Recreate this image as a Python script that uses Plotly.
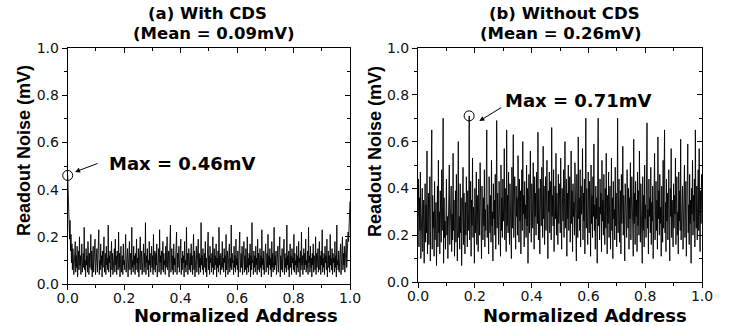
import plotly.graph_objects as go

# ---------------- data ----------------
noise_with_cds = [
    0.46,0.38,0.30,0.24,0.19,0.27,0.14,0.21,0.09,0.17,0.06,0.15,0.11,0.04,0.13,0.08,0.18,0.05,0.12,0.07,
    0.16,0.03,0.10,0.14,0.06,0.20,0.08,0.12,0.04,0.11,0.17,0.05,0.09,0.13,0.07,0.24,0.06,0.10,0.03,0.15,
    0.08,0.12,0.05,0.18,0.09,0.04,0.13,0.07,0.11,0.21,0.06,0.14,0.03,0.10,0.16,0.05,0.12,0.08,0.19,0.04,
    0.11,0.07,0.15,0.05,0.13,0.09,0.23,0.04,0.10,0.06,0.17,0.08,0.12,0.03,0.14,0.07,0.11,0.20,0.05,0.09,
    0.13,0.04,0.16,0.08,0.11,0.06,0.25,0.05,0.12,0.09,0.14,0.03,0.10,0.18,0.06,0.13,0.04,0.11,0.07,0.15,
    0.05,0.19,0.08,0.12,0.04,0.14,0.10,0.06,0.22,0.07,0.13,0.03,0.11,0.16,0.05,0.09,0.12,0.04,0.17,0.08,
    0.10,0.06,0.14,0.21,0.05,0.12,0.08,0.15,0.03,0.11,0.07,0.18,0.06,0.13,0.09,0.04,0.24,0.07,0.10,0.05,
    0.16,0.08,0.12,0.04,0.13,0.06,0.19,0.09,0.11,0.05,0.15,0.03,0.12,0.07,0.20,0.06,0.10,0.14,0.04,0.11,
    0.08,0.17,0.05,0.13,0.07,0.26,0.04,0.12,0.09,0.15,0.06,0.10,0.03,0.18,0.08,0.13,0.05,0.11,0.16,0.07,
    0.12,0.04,0.21,0.06,0.10,0.14,0.05,0.13,0.08,0.17,0.03,0.11,0.07,0.15,0.05,0.23,0.09,0.12,0.04,0.14,
    0.06,0.11,0.18,0.05,0.13,0.08,0.10,0.04,0.16,0.07,0.12,0.20,0.06,0.09,0.14,0.03,0.12,0.07,0.25,0.05,
    0.10,0.15,0.06,0.12,0.04,0.17,0.08,0.11,0.05,0.14,0.09,0.22,0.04,0.13,0.07,0.10,0.16,0.05,0.12,0.08,
    0.19,0.04,0.11,0.06,0.14,0.09,0.12,0.03,0.18,0.07,0.10,0.05,0.24,0.08,0.13,0.04,0.11,0.15,0.06,0.09,
    0.13,0.05,0.17,0.08,0.12,0.04,0.10,0.21,0.06,0.14,0.03,0.11,0.07,0.16,0.05,0.12,0.09,0.19,0.04,0.13,
    0.07,0.11,0.05,0.26,0.08,0.12,0.06,0.15,0.04,0.10,0.13,0.07,0.18,0.05,0.11,0.03,0.14,0.08,0.22,0.06,
    0.12,0.04,0.16,0.09,0.11,0.05,0.13,0.07,0.20,0.04,0.10,0.15,0.06,0.12,0.08,0.17,0.03,0.11,0.07,0.14,
    0.05,0.24,0.08,0.12,0.04,0.13,0.10,0.06,0.18,0.07,0.11,0.05,0.15,0.09,0.12,0.03,0.21,0.06,0.10,0.14,
    0.04,0.12,0.08,0.17,0.05,0.11,0.07,0.25,0.06,0.13,0.09,0.10,0.04,0.16,0.07,0.12,0.05,0.19,0.08,0.11,
    0.06,0.14,0.03,0.12,0.09,0.22,0.05,0.10,0.13,0.07,0.16,0.04,0.11,0.08,0.18,0.05,0.12,0.06,0.15,0.09,
    0.04,0.20,0.07,0.11,0.05,0.13,0.08,0.17,0.03,0.12,0.06,0.26,0.09,0.10,0.04,0.14,0.07,0.12,0.05,0.16,
    0.08,0.11,0.04,0.19,0.06,0.13,0.10,0.05,0.15,0.07,0.12,0.03,0.23,0.08,0.11,0.06,0.14,0.04,0.12,0.09,
    0.17,0.05,0.10,0.13,0.07,0.21,0.04,0.12,0.08,0.15,0.06,0.11,0.03,0.18,0.07,0.13,0.05,0.10,0.24,0.06,
    0.12,0.08,0.14,0.04,0.11,0.07,0.16,0.05,0.13,0.09,0.20,0.03,0.12,0.06,0.10,0.15,0.05,0.11,0.08,0.19,
    0.04,0.13,0.07,0.11,0.05,0.25,0.08,0.12,0.06,0.14,0.03,0.10,0.17,0.07,0.12,0.04,0.15,0.09,0.11,0.06,
    0.21,0.05,0.13,0.08,0.10,0.04,0.16,0.07,0.12,0.05,0.18,0.09,0.11,0.03,0.14,0.06,0.22,0.08,0.12,0.04,
    0.11,0.15,0.06,0.13,0.08,0.19,0.05,0.10,0.07,0.14,0.04,0.24,0.09,0.12,0.05,0.16,0.07,0.11,0.03,0.13,
    0.08,0.17,0.05,0.12,0.10,0.06,0.20,0.04,0.13,0.07,0.11,0.15,0.05,0.09,0.18,0.06,0.12,0.04,0.14,0.08,
    0.23,0.05,0.11,0.07,0.13,0.04,0.16,0.09,0.12,0.06,0.19,0.03,0.10,0.14,0.07,0.12,0.05,0.21,0.08,0.11,
    0.06,0.15,0.04,0.13,0.09,0.11,0.05,0.18,0.07,0.12,0.03,0.25,0.08,0.10,0.06,0.14,0.05,0.12,0.09,0.17,
    0.04,0.11,0.07,0.20,0.06,0.13,0.08,0.16,0.05,0.12,0.09,0.19,0.07,0.15,0.11,0.22,0.18,0.26,0.29,0.35,
]

noise_without_cds = [
    0.28,0.44,0.15,0.36,0.22,0.47,0.10,0.31,0.19,0.40,0.13,0.27,0.35,0.08,0.24,0.42,0.17,0.33,0.21,0.56,
    0.12,0.29,0.38,0.16,0.25,0.45,0.09,0.32,0.20,0.65,0.14,0.37,0.23,0.30,0.11,0.43,0.18,0.26,0.34,0.07,
    0.24,0.41,0.15,0.52,0.21,0.30,0.12,0.39,0.27,0.17,0.48,0.22,0.33,0.70,0.08,0.36,0.19,0.26,0.14,0.31,
    0.44,0.20,0.28,0.10,0.37,0.23,0.50,0.16,0.32,0.25,0.41,0.13,0.29,0.18,0.55,0.22,0.35,0.11,0.27,0.39,
    0.17,0.46,0.24,0.09,0.33,0.60,0.19,0.28,0.14,0.42,0.21,0.36,0.07,0.30,0.25,0.49,0.16,0.38,0.23,0.12,
    0.34,0.20,0.45,0.27,0.15,0.39,0.22,0.31,0.71,0.18,0.29,0.43,0.11,0.35,0.24,0.53,0.19,0.32,0.26,0.08,
    0.40,0.21,0.30,0.47,0.16,0.37,0.25,0.13,0.44,0.28,0.20,0.51,0.23,0.34,0.10,0.41,0.27,0.18,0.36,0.24,
    0.48,0.15,0.31,0.22,0.39,0.65,0.19,0.33,0.26,0.12,0.45,0.29,0.21,0.37,0.17,0.52,0.24,0.30,0.09,0.42,
    0.27,0.35,0.20,0.46,0.14,0.32,0.69,0.23,0.38,0.28,0.16,0.43,0.25,0.31,0.11,0.50,0.22,0.36,0.19,0.44,
    0.26,0.33,0.57,0.18,0.40,0.29,0.13,0.65,0.24,0.37,0.21,0.47,0.30,0.16,0.42,0.27,0.35,0.10,0.49,0.23,
    0.38,0.63,0.19,0.32,0.45,0.25,0.14,0.41,0.28,0.36,0.20,0.54,0.31,0.17,0.44,0.26,0.39,0.12,0.34,0.48,
    0.22,0.60,0.29,0.37,0.15,0.43,0.27,0.33,0.19,0.50,0.24,0.40,0.08,0.35,0.46,0.21,0.31,0.56,0.26,0.17,
    0.42,0.30,0.23,0.51,0.36,0.14,0.45,0.28,0.38,0.20,0.47,0.33,0.25,0.64,0.18,0.40,0.29,0.12,0.44,0.34,
    0.24,0.49,0.31,0.19,0.58,0.27,0.41,0.16,0.36,0.45,0.22,0.33,0.52,0.26,0.10,0.39,0.30,0.47,0.21,0.35,
    0.43,0.18,0.66,0.28,0.37,0.24,0.48,0.13,0.32,0.41,0.27,0.55,0.20,0.38,0.30,0.16,0.46,0.25,0.34,0.42,
    0.21,0.53,0.29,0.14,0.40,0.33,0.26,0.48,0.19,0.36,0.60,0.23,0.31,0.44,0.11,0.38,0.27,0.50,0.22,0.35,
    0.45,0.17,0.30,0.56,0.25,0.39,0.13,0.42,0.28,0.34,0.20,0.51,0.37,0.24,0.09,0.46,0.31,0.19,0.62,0.27,
    0.36,0.22,0.48,0.15,0.41,0.29,0.33,0.57,0.18,0.38,0.26,0.44,0.12,0.35,0.70,0.23,0.40,0.28,0.16,0.47,
    0.30,0.21,0.43,0.34,0.11,0.50,0.25,0.37,0.19,0.45,0.28,0.59,0.22,0.33,0.14,0.41,0.27,0.36,0.08,0.48,
    0.70,0.24,0.32,0.18,0.44,0.29,0.38,0.13,0.52,0.26,0.35,0.20,0.46,0.31,0.16,0.40,0.23,0.55,0.28,0.12,
    0.37,0.25,0.47,0.19,0.33,0.41,0.14,0.29,0.53,0.22,0.36,0.10,0.43,0.27,0.31,0.18,0.49,0.24,0.38,0.15,
    0.30,0.70,0.21,0.35,0.44,0.17,0.28,0.39,0.12,0.46,0.25,0.33,0.58,0.20,0.37,0.29,0.09,0.42,0.26,0.34,
    0.19,0.48,0.31,0.23,0.40,0.14,0.36,0.27,0.51,0.18,0.32,0.45,0.22,0.29,0.11,0.61,0.25,0.38,0.16,0.43,
    0.28,0.35,0.13,0.47,0.24,0.39,0.20,0.56,0.30,0.17,0.42,0.26,0.34,0.08,0.45,0.22,0.37,0.15,0.50,0.27,
    0.33,0.19,0.40,0.68,0.23,0.31,0.12,0.44,0.28,0.36,0.21,0.49,0.16,0.34,0.26,0.41,0.10,0.38,0.24,0.55,
    0.18,0.30,0.43,0.22,0.35,0.14,0.62,0.27,0.39,0.20,0.46,0.25,0.32,0.11,0.41,0.29,0.17,0.52,0.23,0.36,
    0.65,0.21,0.34,0.13,0.44,0.26,0.38,0.18,0.31,0.48,0.24,0.09,0.40,0.28,0.57,0.19,0.35,0.27,0.15,0.42,
    0.23,0.37,0.29,0.53,0.16,0.33,0.45,0.20,0.30,0.12,0.47,0.26,0.39,0.22,0.61,0.18,0.34,0.28,0.41,0.14,
    0.36,0.24,0.50,0.19,0.31,0.43,0.11,0.38,0.27,0.59,0.21,0.33,0.16,0.46,0.25,0.35,0.08,0.40,0.29,0.52,
    0.20,0.37,0.26,0.44,0.15,0.65,0.30,0.23,0.41,0.18,0.34,0.48,0.22,0.57,0.28,0.13,0.39,0.25,0.46,0.31,
]

address_a = [i / (len(noise_with_cds) - 1) for i in range(len(noise_with_cds))]
address_b = [i / (len(noise_without_cds) - 1) for i in range(len(noise_without_cds))]

max_a = (0.0, 0.46)
max_b = (0.18, 0.71)

titles_a = ["(a) With CDS", "(Mean = 0.09mV)"]
titles_b = ["(b) Without CDS", "(Mean = 0.26mV)"]
max_labels = ["Max = 0.46mV", "Max = 0.71mV"]
tick_vals = [0.0, 0.2, 0.4, 0.6, 0.8, 1.0]
tick_text = ["0.0", "0.2", "0.4", "0.6", "0.8", "1.0"]

# ---------------- figure ----------------
W, H = 729, 326
BOLD = "DejaVu Sans"
fig = go.Figure()

fig.add_trace(go.Scatter(x=address_a, y=noise_with_cds, mode="lines",
                         line=dict(color="black", width=0.9), xaxis="x", yaxis="y",
                         showlegend=False, hoverinfo="skip"))
fig.add_trace(go.Scatter(x=address_b, y=noise_without_cds, mode="lines",
                         line=dict(color="black", width=0.9), xaxis="x2", yaxis="y2",
                         showlegend=False, hoverinfo="skip"))
fig.add_trace(go.Scatter(x=[max_a[0]], y=[max_a[1]], mode="markers",
                         marker=dict(symbol="circle-open", size=10, color="black", line=dict(width=1)),
                         xaxis="x", yaxis="y", showlegend=False, cliponaxis=False, hoverinfo="skip"))
fig.add_trace(go.Scatter(x=[max_b[0]], y=[max_b[1]], mode="markers",
                         marker=dict(symbol="circle-open", size=10, color="black", line=dict(width=1)),
                         xaxis="x2", yaxis="y2", showlegend=False, cliponaxis=False, hoverinfo="skip"))
# empty traces so the mirrored (inside-tick) axes get drawn
for xa, ya in [("x3", "y3"), ("x4", "y4")]:
    fig.add_trace(go.Scatter(x=[None], y=[None], xaxis=xa, yaxis=ya, showlegend=False, hoverinfo="skip"))


def main_axis(domain, anchor, standoff=0):
    return dict(domain=domain, anchor=anchor, range=[0, 1], tickvals=tick_vals, ticktext=tick_text,
                ticks="outside", ticklen=5, tickwidth=1, tickcolor="black",
                minor=dict(ticks="outside", dtick=0.1, ticklen=3, tickwidth=1, tickcolor="black"),
                showline=True, linecolor="black", linewidth=1, mirror=True,
                showgrid=False, zeroline=False, automargin=False, ticklabelstandoff=standoff,
                tickfont=dict(family="DejaVu Sans", size=14, color="#111"))


def mirror_axis(over, side, anchor):
    return dict(overlaying=over, side=side, anchor=anchor, range=[0, 1], tickvals=tick_vals,
                ticks="inside", ticklen=5, tickwidth=1, tickcolor="black",
                minor=dict(ticks="inside", dtick=0.1, ticklen=3, tickwidth=1, tickcolor="black"),
                showticklabels=False, showgrid=False, zeroline=False, showline=False,
                automargin=False)


xa_dom = [67.7 / W, 350 / W]
xb_dom = [418 / W, 702 / W]
ya_dom = [1 - 284 / H, 1 - 48 / H]
yb_dom = [1 - 282 / H, 1 - 48 / H]

fig.update_layout(
    width=W, height=H, margin=dict(l=0, r=0, t=0, b=0, pad=0, autoexpand=False),
    paper_bgcolor="white", plot_bgcolor="white",
    xaxis=main_axis(xa_dom, "y", -4), yaxis=main_axis(ya_dom, "x"),
    xaxis2=main_axis(xb_dom, "y2", -4), yaxis2=main_axis(yb_dom, "x2"),
    xaxis3=mirror_axis("x", "top", "y3"), yaxis3=mirror_axis("y", "right", "x3"),
    xaxis4=mirror_axis("x2", "top", "y4"), yaxis4=mirror_axis("y2", "right", "x4"),
)

ann = []
def txt(x, y, s, size=18, family=BOLD, bold=True, angle=0, xanchor="center"):
    ann.append(dict(xref="paper", yref="paper", x=x / W, y=1 - y / H, text=f"<b>{s}</b>" if bold else s,
                    showarrow=False, xanchor=xanchor, yanchor="middle", textangle=angle,
                    font=dict(family=family, size=size, color="black")))

txt(207, 14, titles_a[0], size=16.5); txt(214, 34, titles_a[1], size=16.5)
txt(564, 14, titles_b[0], size=16.5); txt(561, 34, titles_b[1], size=16.5)
txt(236, 315, "Normalized Address"); txt(585, 315, "Normalized Address")
txt(24, 151, "Readout Noise (mV)", size=18, family="Liberation Sans", angle=-90)
txt(375, 152, "Readout Noise (mV)", size=18, family="Liberation Sans", angle=-90)
txt(107, 163, max_labels[0], xanchor="left")
txt(503, 100, max_labels[1], xanchor="left")

# arrows
ann.append(dict(xref="x", yref="y", axref="x", ayref="y", x=0.026, y=0.475, ax=0.111, ay=0.513,
                showarrow=True, arrowhead=2, arrowsize=1, arrowwidth=1, arrowcolor="black", text=""))
ann.append(dict(xref="x2", yref="y2", axref="x2", ayref="y2", x=0.216, y=0.688, ax=0.298, ay=0.749,
                showarrow=True, arrowhead=2, arrowsize=1, arrowwidth=1, arrowcolor="black", text=""))
fig.update_layout(annotations=ann)

fig.write_html("out.html", config={"displayModeBar": False},
               post_script="document.body.style.margin='0';document.body.style.overflow='hidden';")
